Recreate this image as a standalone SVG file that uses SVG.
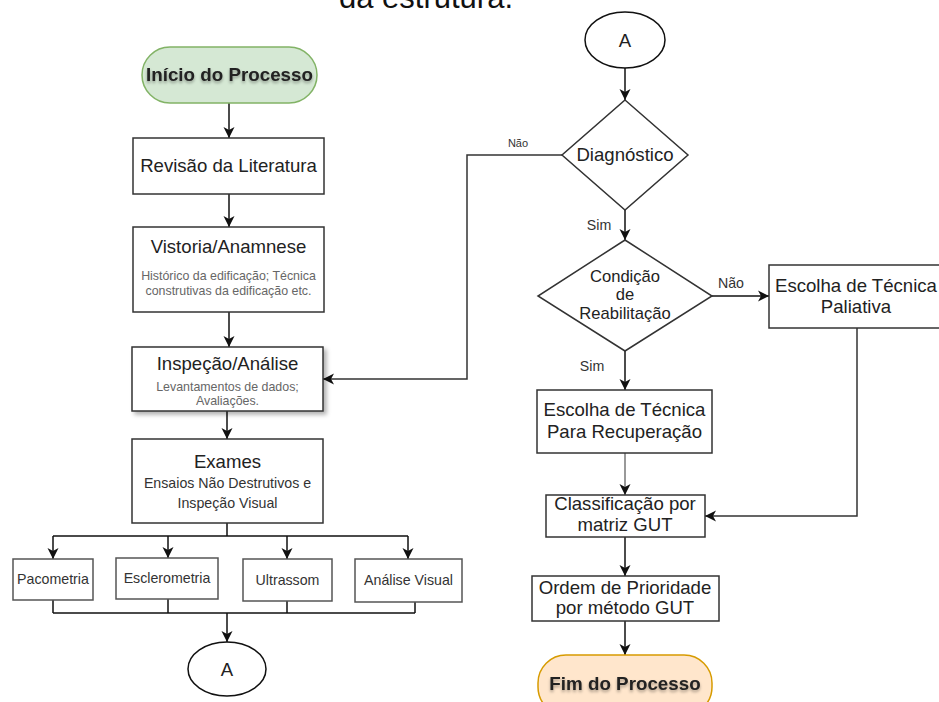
<svg xmlns="http://www.w3.org/2000/svg" width="939" height="702" viewBox="0 0 939 702">
<defs>
<style>
text{font-family:"Liberation Sans",Arial,sans-serif;text-anchor:middle;fill:#222}
.box{fill:#fff;stroke:#333;stroke-width:1.5}
.sm{fill:#fff;stroke:#555;stroke-width:1.5}
.t{font-size:18.6px}
.sub{font-size:12.4px;fill:#666}
.sub2{font-size:14.2px;fill:#333}
.lbl{font-size:14.2px;fill:#333}
.con{fill:none;stroke:#111;stroke-width:1.5}
.arr{marker-end:url(#ah)}
.bold{font-weight:bold;font-size:18.8px}
.cd{font-size:16.6px}
</style>
<marker id="ah" markerUnits="userSpaceOnUse" markerWidth="12" markerHeight="12" refX="11" refY="5.5" orient="auto" overflow="visible">
<path d="M0,0 L11,5.5 L0,11 L3,5.5 z" fill="#111"/>
</marker>
<filter id="ts" x="-10%" y="-30%" width="120%" height="160%">
<feDropShadow dx="0" dy="2" stdDeviation="1.5" flood-opacity="0.35"/>
</filter>
<filter id="bs" x="-10%" y="-10%" width="125%" height="130%">
<feDropShadow dx="3" dy="3" stdDeviation="2" flood-opacity="0.3"/>
</filter>
</defs>
<rect width="939" height="702" fill="#fff"/>
<text x="339" y="8" style="font-size:31px;text-anchor:start;fill:#111">da estrutura.</text>

<g id="connectors">
<path class="con arr" d="M229,103 V138"/>
<path class="con arr" d="M229,194 V227"/>
<path class="con arr" d="M229,312 V347"/>
<path class="con arr" d="M227,411 V439"/>
<path class="con" d="M227,523 V536 M53,536 H408"/>
<path class="con arr" d="M53,536 V559"/>
<path class="con arr" d="M168,536 V558"/>
<path class="con arr" d="M287,536 V559"/>
<path class="con arr" d="M408,536 V559"/>
<path class="con" d="M53,600 V613 M168,599 V613 M287,601 V613 M415,602 V613 M53,613 H415"/>
<path class="con arr" d="M227,613 V642"/>
<path class="con arr" d="M625,68 V100"/>
<path class="con arr" style="stroke:#333" d="M562,155 H467 V379 H323"/>
<path class="con arr" d="M625,210 V240"/>
<path class="con arr" d="M712,296 H769"/>
<path class="con arr" style="stroke:#333" d="M857,328 V516 H705"/>
<path class="con arr" d="M625,351 V390"/>
<path class="con arr" style="stroke:#777" d="M625,453 V495"/>
<path class="con arr" d="M625,537 V576"/>
<path class="con arr" d="M625,621 V655"/>
<text class="lbl" x="518" y="147" style="font-size:11px">Não</text>
<text class="lbl" x="599" y="230">Sim</text>
<text class="lbl" x="731" y="288">Não</text>
<text class="lbl" x="592" y="371">Sim</text>
</g>

<g id="inicio">
<rect x="142" y="47" width="175" height="56" rx="28" fill="#d5e8d4" stroke="#82b366" stroke-width="1.5"/>
<text class="bold" x="229.5" y="81" filter="url(#ts)">Início do Processo</text>
</g>
<g id="revisao">
<rect class="box" x="133" y="138" width="191" height="56"/>
<text class="t" x="228.5" y="172">Revisão da Literatura</text>
</g>
<g id="vistoria">
<rect class="box" x="133" y="227" width="191" height="85"/>
<text class="t" x="228.5" y="253">Vistoria/Anamnese</text>
<text class="sub" x="228.5" y="280">Histórico da edificação; Técnica</text>
<text class="sub" x="228.5" y="295">construtivas da edificação etc.</text>
</g>
<g id="inspecao">
<rect class="box" x="132" y="347" width="191" height="64" filter="url(#bs)"/>
<text class="t" x="227.5" y="370">Inspeção/Análise</text>
<text class="sub" x="227.5" y="391">Levantamentos de dados;</text>
<text class="sub" x="227.5" y="405">Avaliações.</text>
</g>
<g id="exames">
<rect class="box" x="132" y="439" width="191" height="84"/>
<text class="t" x="227.5" y="468">Exames</text>
<text class="sub2" x="227.5" y="488">Ensaios Não Destrutivos e</text>
<text class="sub2" x="227.5" y="508">Inspeção Visual</text>
</g>
<g id="pacometria">
<rect class="sm" x="13" y="559" width="80" height="41"/>
<text class="sub2" x="53" y="584">Pacometria</text>
</g>
<g id="esclerometria">
<rect class="sm" x="116" y="558" width="102" height="41"/>
<text class="sub2" x="167" y="583">Esclerometria</text>
</g>
<g id="ultrassom">
<rect class="sm" x="243" y="559" width="89" height="42"/>
<text class="sub2" x="287.5" y="585">Ultrassom</text>
</g>
<g id="analise-visual">
<rect class="sm" x="355" y="559" width="107" height="43"/>
<text class="sub2" x="408.5" y="585">Análise Visual</text>
</g>
<g id="conector-a1">
<ellipse cx="227" cy="669" rx="39" ry="27" fill="#fff" stroke="#111" stroke-width="1.5"/>
<text class="t" x="227" y="676">A</text>
</g>

<g id="conector-a2">
<ellipse cx="625" cy="40" rx="40" ry="28" fill="#fff" stroke="#111" stroke-width="1.5"/>
<text class="t" x="625" y="47">A</text>
</g>
<g id="diagnostico">
<polygon class="box" points="625,100 688,155 625,210 562,155"/>
<text class="t" x="625" y="161">Diagnóstico</text>
</g>
<g id="condicao">
<polygon class="box" points="625,240 712,296 625,351 538,296"/>
<text class="cd" x="625" y="282">Condição</text>
<text class="cd" x="625" y="300">de</text>
<text class="cd" x="625" y="319">Reabilitação</text>
</g>
<g id="paliativa">
<rect class="box" x="769" y="265" width="176" height="63"/>
<text class="t" x="856" y="292">Escolha de Técnica</text>
<text class="t" x="856" y="313">Paliativa</text>
</g>
<g id="recuperacao">
<rect class="box" x="537" y="390" width="175" height="63"/>
<text class="t" x="624.5" y="416">Escolha de Técnica</text>
<text class="t" x="624.5" y="438">Para Recuperação</text>
</g>
<g id="classificacao">
<rect class="box" x="546" y="495" width="159" height="42"/>
<text class="t" x="625" y="510">Classificação por</text>
<text class="t" x="625" y="531">matriz GUT</text>
</g>
<g id="ordem">
<rect class="box" x="532" y="576" width="187" height="45"/>
<text class="t" x="625" y="594">Ordem de Prioridade</text>
<text class="t" x="625" y="614">por método GUT</text>
</g>
<g id="fim">
<rect x="538" y="655" width="174" height="60" rx="28" fill="#ffe6cc" stroke="#d79b00" stroke-width="1.5"/>
<text class="bold" x="625" y="690" filter="url(#ts)">Fim do Processo</text>
</g>
</svg>
